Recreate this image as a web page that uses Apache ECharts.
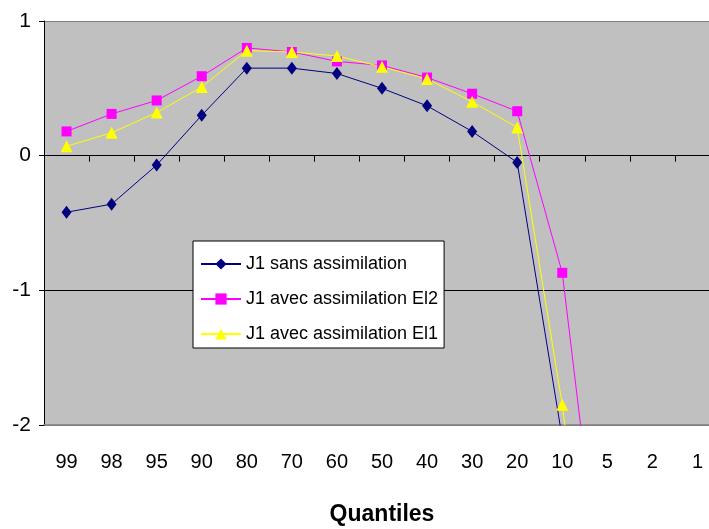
<!DOCTYPE html>
<html>
<head>
<meta charset="utf-8">
<script src="https://cdn.jsdelivr.net/npm/echarts@6/dist/echarts.min.js"></script>
<style>
html,body{margin:0;padding:0;background:#fff;}
#chart{width:709px;height:529px;}
</style>
</head>
<body>
<div id="chart"></div>
<script>
const categories = ['99','98','95','90','80','70','60','50','40','30','20','10','5','2','1'];
const sansAssimilation = [-0.42,-0.36,-0.07,0.30,0.65,0.65,0.61,0.50,0.37,0.18,-0.05,-2.1,-4.5,-5.5,-6.0];
const avecEl2 = [0.18,0.31,0.41,0.59,0.80,0.77,0.70,0.67,0.58,0.46,0.33,-0.87,-3.65,-4.8,-5.5];
const avecEl1 = [0.07,0.17,0.32,0.51,0.78,0.77,0.74,0.66,0.57,0.40,0.21,-1.85,-4.5,-5.5,-6.0];
const seriesNames = ['J1 sans assimilation','J1 avec assimilation El2','J1 avec assimilation El1'];
const yMin = -2, yMax = 1, yStep = 1;

const FONT = '"Liberation Sans", Arial, sans-serif';
const chart = echarts.init(document.getElementById('chart'));
chart.setOption({
  animation: false,
  backgroundColor: '#ffffff',
  textStyle: {fontFamily: FONT, color: '#000'},
  grid: {left: 44, top: 21, width: 676, height: 404, show: true, backgroundColor: '#C0C0C0', borderWidth: 0, containLabel: false, outerBoundsMode: 'none'},
  legend: {
    orient: 'vertical', left: 193, top: 241,
    backgroundColor: '#ffffff', borderColor: '#000', borderWidth: 1,
    padding: [14, 6, 5, 7], itemGap: 17, itemWidth: 40, itemHeight: 14,
    textStyle: {fontFamily: FONT, fontSize: 18, color: '#000'},
    data: seriesNames
  },
  xAxis: [
    {
      type: 'category', data: categories, position: 'bottom', boundaryGap: true,
      axisLine: {show: true, onZero: true, lineStyle: {color: '#000', width: 1}},
      axisTick: {show: true, length: 6, lineStyle: {color: '#000'}},
      axisLabel: {show: false}, splitLine: {show: false}
    },
    {
      type: 'category', data: categories, position: 'bottom', boundaryGap: true,
      axisLine: {show: true, onZero: false, lineStyle: {color: '#808080', width: 1.5}},
      axisTick: {show: false},
      axisLabel: {show: true, fontFamily: FONT, fontSize: 20, color: '#000', margin: 27},
      name: 'Quantiles', nameLocation: 'middle', nameGap: 78,
      nameTextStyle: {fontFamily: FONT, fontSize: 23, fontWeight: 'bold', color: '#000'}
    }
  ],
  yAxis: {
    type: 'value', min: yMin, max: yMax, interval: yStep,
    axisLine: {show: true, lineStyle: {color: '#000', width: 1}},
    axisTick: {show: true, length: 5, lineStyle: {color: '#000'}},
    axisLabel: {fontFamily: FONT, fontSize: 21, color: '#000', margin: 13},
    splitLine: {show: true, lineStyle: {color: ['#808080', '#000', '#000', '#808080'], width: 1}}
  },
  series: [
    {
      name: seriesNames[0], type: 'line', data: sansAssimilation, xAxisIndex: 0,
      symbol: 'diamond', symbolSize: [10, 13], clip: true,
      lineStyle: {color: '#000080', width: 1}, itemStyle: {color: '#000080'}
    },
    {
      name: seriesNames[1], type: 'line', data: avecEl2, xAxisIndex: 0,
      symbol: 'rect', symbolSize: 10, clip: true,
      lineStyle: {color: '#FF00FF', width: 1}, itemStyle: {color: '#FF00FF'}
    },
    {
      name: seriesNames[2], type: 'line', data: avecEl1, xAxisIndex: 0,
      symbol: 'triangle', symbolSize: 12, clip: true,
      lineStyle: {color: '#FFFF00', width: 1}, itemStyle: {color: '#FFFF00'}
    }
  ]
});
</script>
</body>
</html>
